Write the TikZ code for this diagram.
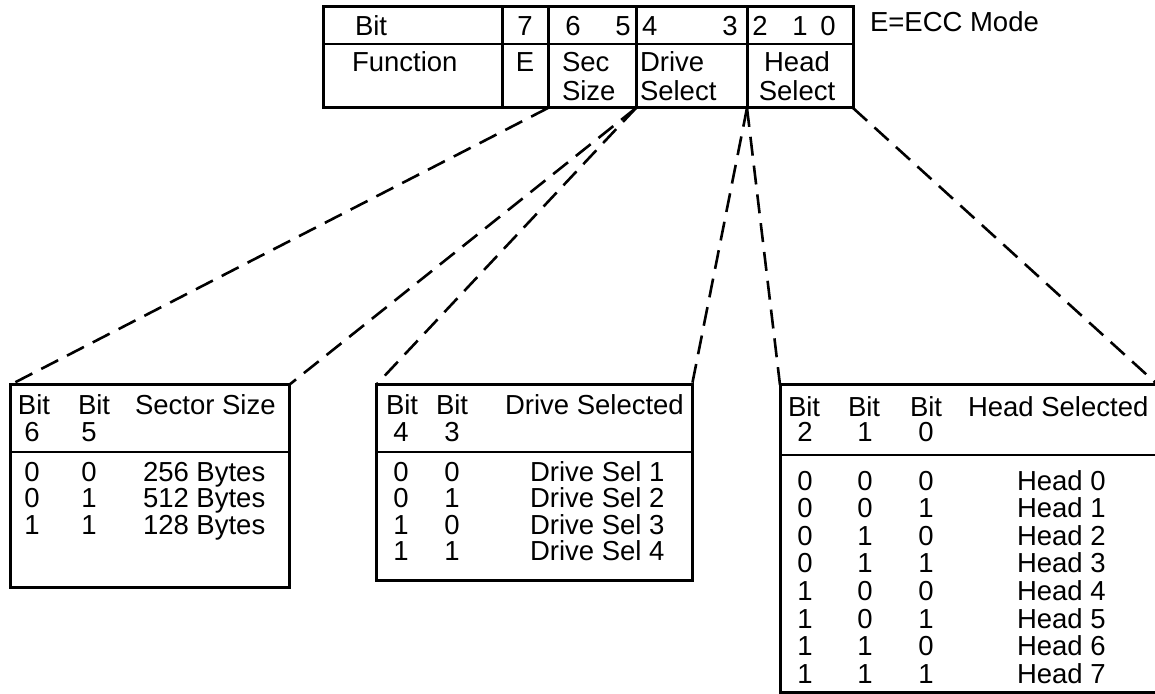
\documentclass[tikz,border=0pt]{standalone}
\usepackage{fontspec}
\setmainfont{Liberation Sans}
\newcommand\tf{\fontsize{13.75pt}{15pt}\selectfont}
\tikzset{
  box/.style={draw, line width=1.5pt, inner sep=0pt, outer sep=0pt, anchor=north west},
  tx/.style={inner sep=0pt, outer sep=0pt, font=\tf, anchor=base west},
  tc/.style={inner sep=0pt, outer sep=0pt, font=\tf, anchor=base},
  divline/.style={line width=0.6pt},
  lead/.style={line width=1.3pt, dash pattern=on 9.5pt off 5pt}
}
\begin{document}
\begin{tikzpicture}[x=0.5pt,y=-0.5pt]
\useasboundingbox (0,0) rectangle (1155,694);
% ---------- top register table ----------
\node[box, minimum width=89.5pt, minimum height=50.5pt] (fn) at (323,7) {};
\node[box, minimum width=23pt,   minimum height=50.5pt] (ec) at (502,7) {};
\node[box, minimum width=44pt,   minimum height=50.5pt] (ss) at (548,7) {};
\node[box, minimum width=55.5pt, minimum height=50.5pt] (ds) at (636,7) {};
\node[box, minimum width=53pt,   minimum height=50.5pt] (hs) at (747,7) {};
\coordinate (dtop) at (0,44);
\draw[divline] (fn.west |- dtop) -- (hs.east |- dtop);
\node[tx] (tbit) at (355,36) {Bit};
\node[tx] (tfun) at (352,72) {Function};
\node[tc] (t7) at (525,36) {7};
\node[tc] (tE) at (525,72) {E};
\node[tc] (t6) at (573,36) {6};
\node[tc] (t5) at (623,36) {5};
\node[tx] (tsec) at (562,72) {Sec};
\node[tx] (tsize) at (562,101) {Size};
\node[tx] (t4) at (642,36) {4};
\node[tc] (t3) at (730,36) {3};
\node[tx] (tdrive) at (640,72) {Drive};
\node[tx] (tdsel) at (640,101) {Select};
\node[tc] (t2) at (760,36) {2};
\node[tc] (t1) at (800,36) {1};
\node[tc] (t0) at (828,36) {0};
\node[tc] (thead) at (797,72) {Head};
\node[tc] (thsel) at (797,101) {Select};
\node[tx] (ecc) at (870,32) {E=ECC Mode};
% ---------- bottom tables ----------
\node[box, minimum width=139.5pt, minimum height=101pt]   (ta) at (10,385) {};
\node[box, minimum width=158pt,   minimum height=97.5pt]  (tb) at (376,385) {};
\node[box, minimum width=189pt,   minimum height=153.5pt] (tt) at (780,385) {};
\coordinate (dbot) at (0,452);
\coordinate (dbotc) at (0,455);
\draw[divline] (ta.west |- dbot) -- (ta.east |- dbot);
\draw[divline] (tb.west |- dbot) -- (tb.east |- dbot);
\draw[divline] (tt.west |- dbotc) -- (tt.east |- dbotc);
% table A : sector size
\node[tx] (ah1) at (18,415) {Bit};
\node[tx] (ah2) at (78,415) {Bit};
\node[tx] (ah3) at (135,415) {Sector Size};
\node[tc] (ad1) at (32,442) {6};
\node[tc] (ad2) at (89,442) {5};
\foreach \p/\q/\s [count=\i] in {0/0/256,0/1/512,1/1/128} {
  \node[tc] (ap\i) at (32,{454.5+26.5*\i}) {\p};
  \node[tc] (aq\i) at (89,{454.5+26.5*\i}) {\q};
  \node[tx] (as\i) at (143,{454.5+26.5*\i}) {\s{} Bytes};
}
% table B : drive select
\node[tx] (bh1) at (386,415) {Bit};
\node[tx] (bh2) at (436,415) {Bit};
\node[tx] (bh3) at (505,415) {Drive Selected};
\node[tc] (bd1) at (401,442) {4};
\node[tc] (bd2) at (452,442) {3};
\foreach \p/\q [count=\i] in {0/0,0/1,1/0,1/1} {
  \node[tc] (bp\i) at (401,{454.5+26.5*\i}) {\p};
  \node[tc] (bq\i) at (452,{454.5+26.5*\i}) {\q};
  \node[tx] (bs\i) at (530,{454.5+26.5*\i}) {Drive Sel \i};
}
% table C : head select
\node[tx] (ch1) at (788,417) {Bit};
\node[tx] (ch2) at (848,417) {Bit};
\node[tx] (ch3) at (910,417) {Bit};
\node[tx] (ch4) at (968,417) {Head Selected};
\node[tc] (cd1) at (805,442) {2};
\node[tc] (cd2) at (865,442) {1};
\node[tc] (cd3) at (926,442) {0};
\foreach \p/\q/\r [count=\i] in {0/0/0,0/0/1,0/1/0,0/1/1,1/0/0,1/0/1,1/1/0,1/1/1} {
  \pgfmathtruncatemacro\k{\i-1}
  \node[tc] (cp\i) at (805,{462.4+27.6*\i}) {\p};
  \node[tc] (cq\i) at (865,{462.4+27.6*\i}) {\q};
  \node[tc] (cr\i) at (926,{462.4+27.6*\i}) {\r};
  \node[tx] (cs\i) at (1017,{462.4+27.6*\i}) {Head \k};
}
% ---------- dashed leaders ----------
\draw[lead] (ss.south west) -- (ta.north west);
\draw[lead] (ss.south east) -- (ta.north east);
\draw[lead] (ds.south west) -- (tb.north west);
\draw[lead] (ds.south east) -- (tb.north east);
\draw[lead] (hs.south west) -- (tt.north west);
\draw[lead] (hs.south east) -- (tt.north east);
\end{tikzpicture}
\end{document}
